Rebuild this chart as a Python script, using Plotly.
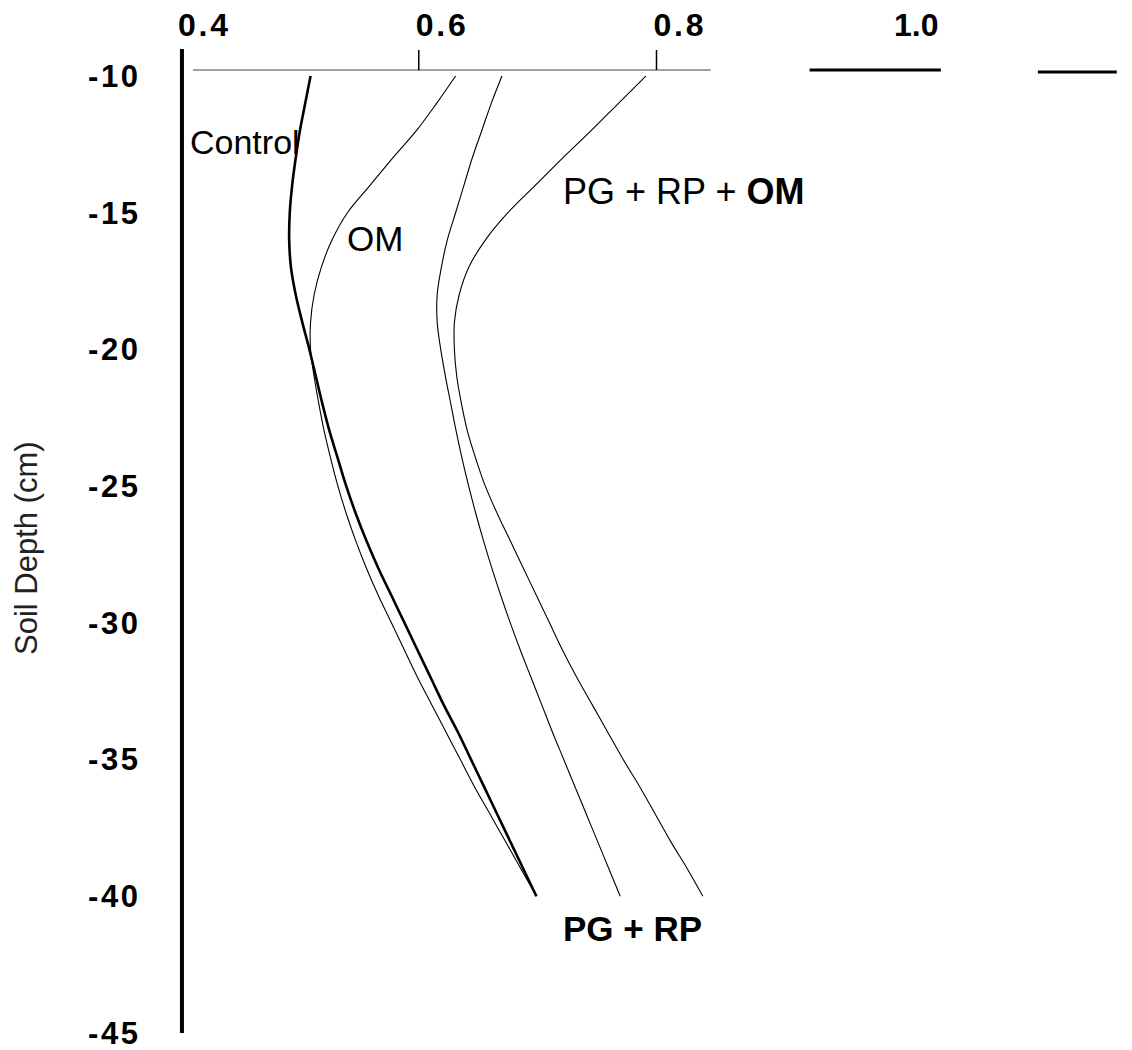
import plotly.graph_objects as go

# ---------------- data ----------------
depth = [-10, -11, -12, -13, -14, -15, -16, -17, -18, -19, -20,
         -21, -22, -23, -24, -25, -26, -27, -28, -29, -30,
         -31, -32, -33, -34, -35, -36, -37, -38, -39, -40]

control = [0.509, 0.5045, 0.500, 0.4965, 0.4935, 0.4915, 0.491, 0.4925, 0.4965, 0.502, 0.508,
           0.5135, 0.519, 0.525, 0.532, 0.539, 0.547, 0.556, 0.566, 0.577, 0.588,
           0.599, 0.610, 0.621, 0.633, 0.644, 0.655, 0.666, 0.677, 0.688, 0.699]

om = [0.631, 0.615, 0.598, 0.578, 0.559, 0.540, 0.527, 0.518, 0.512, 0.509, 0.509,
      0.512, 0.516, 0.5205, 0.526, 0.532, 0.539, 0.547, 0.556, 0.566, 0.577,
      0.588, 0.599, 0.611, 0.623, 0.635, 0.647, 0.660, 0.673, 0.686, 0.699]

pg_rp = [0.670, 0.661, 0.653, 0.645, 0.638, 0.631, 0.624, 0.619, 0.6155, 0.6155, 0.6185,
         0.6225, 0.627, 0.6315, 0.6365, 0.642, 0.648, 0.6545, 0.6615, 0.669, 0.677,
         0.6855, 0.6945, 0.7035, 0.7125, 0.722, 0.7315, 0.741, 0.7505, 0.760, 0.7695]

pg_rp_om = [0.791, 0.768, 0.745, 0.721, 0.698, 0.675, 0.656, 0.642, 0.634, 0.630, 0.630,
            0.632, 0.636, 0.641, 0.648, 0.656, 0.666, 0.677, 0.688, 0.699, 0.710,
            0.721, 0.733, 0.746, 0.759, 0.772, 0.786, 0.799, 0.812, 0.826, 0.839]

x_tick_vals = [0.4, 0.6, 0.8, 1.0]
x_tick_labels = ["0.4", "0.6", "0.8", "1.0"]
x_tick_marks = [0.6, 0.8]
y_tick_vals = [-10, -15, -20, -25, -30, -35, -40, -45]
y_tick_labels = ["-10", "-15", "-20", "-25", "-30", "-35", "-40", "-45"]

series_names = ["Control", "OM", "PG + RP", "PG + RP + OM"]
series_values = [control, om, pg_rp, pg_rp_om]
series_widths = [2.6, 1.1, 1.1, 1.1]


def spaced(label):
    # the scanned axis labels are slightly letter-spaced (hair spaces between characters)
    return "\u200a".join(label)


# ---------------- figure ----------------
fig = go.Figure()
for name, vals, w in zip(series_names, series_values, series_widths):
    fig.add_trace(go.Scatter(
        x=vals, y=depth, mode="lines", name=name,
        line=dict(color="black", width=w, shape="spline", smoothing=1.0),
        showlegend=False, hoverinfo="skip"))

tick_family = "Liberation Sans Narrow, Liberation Sans, Arial"
label_font = dict(family="Liberation Sans, Arial", size=35, color="black")

fig.update_layout(
    width=1132, height=1050,
    margin=dict(l=181, r=0, t=70, b=17),
    plot_bgcolor="white", paper_bgcolor="white",
    showlegend=False,
    xaxis=dict(side="top", range=[0.4, 1.2], tickvals=x_tick_vals,
               ticktext=[spaced(t) for t in x_tick_labels[:3]] + [x_tick_labels[3]],
               ticks="", showline=False, showgrid=False, zeroline=False,
               tickfont=dict(family=tick_family, size=32, color="black", weight="bold"),
               ticklabelshift=22, ticklabelstandoff=27, ticklabeloverflow="allow"),
    yaxis=dict(range=[-45, -9.78], tickvals=y_tick_vals,
               ticktext=[spaced(t) for t in y_tick_labels],
               ticks="", showline=False, showgrid=False, zeroline=False,
               tickfont=dict(family=tick_family, size=31, color="black", weight="bold"),
               ticklabelstandoff=42, ticklabeloverflow="allow"),
)

shapes = []
# left vertical axis line (extends above the plot)
shapes.append(dict(type="line", xref="paper", yref="paper", x0=0.001, x1=0.001, y0=0, y1=1.0218,
                   line=dict(color="black", width=4)))
# top axis line pieces
shapes.append(dict(type="line", xref="paper", yref="paper", x0=0.0126, x1=0.557, y0=1, y1=1,
                   line=dict(color="#808080", width=1.5)))
shapes.append(dict(type="line", xref="paper", yref="paper", x0=0.661, x1=0.799, y0=1, y1=1,
                   line=dict(color="black", width=3)))
shapes.append(dict(type="line", xref="paper", yref="paper", x0=0.901, x1=0.984, y0=0.998, y1=0.998,
                   line=dict(color="black", width=3)))
for tv in x_tick_marks:
    shapes.append(dict(type="line", xref="x", yref="paper", x0=tv, x1=tv, y0=1, y1=1.0208,
                       line=dict(color="black", width=1.5)))
fig.update_layout(shapes=shapes)

annotations = [
    dict(text="Control", x=0.502, y=-12.41, xref="x", yref="y", xanchor="right", yanchor="middle",
         showarrow=False, font=dict(label_font, size=34)),
    dict(text="OM", x=0.563, y=-15.93, xref="x", yref="y", xanchor="center", yanchor="middle",
         showarrow=False, font=label_font),
    dict(text="PG + RP + <b>OM</b>", x=0.720, y=-14.21, xref="x", yref="y", xanchor="left",
         yanchor="middle", showarrow=False, font=dict(label_font, size=36)),
    dict(text="<b>PG + RP</b>", x=0.720, y=-41.16, xref="x", yref="y", xanchor="left",
         yanchor="middle", showarrow=False, font=label_font),
    dict(text="Soil Depth (cm)", x=-0.163, y=0.5036, xref="paper", yref="paper", textangle=-90,
         xanchor="center", yanchor="middle", showarrow=False,
         font=dict(family="Liberation Sans, Arial", size=31, color="#222222")),
]
fig.update_layout(annotations=annotations)

fig.write_html("out.html")
